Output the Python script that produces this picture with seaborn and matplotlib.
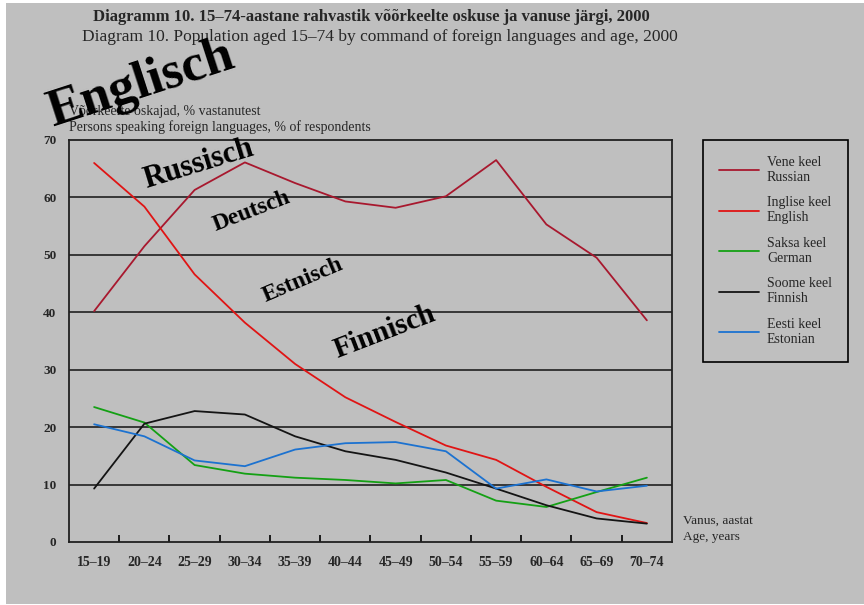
import matplotlib
matplotlib.use("Agg")
import matplotlib.pyplot as plt
import seaborn as sns
import pandas as pd
from matplotlib.patches import Rectangle
from matplotlib.ticker import FixedLocator
from matplotlib.lines import Line2D

ages = ["15–19", "20–24", "25–29", "30–34", "35–39", "40–44",
        "45–49", "50–54", "55–59", "60–64", "65–69", "70–74"]
russian = [40.2, 51.5, 61.3, 66.1, 62.5, 59.3, 58.2, 60.2, 66.5, 55.3, 49.5, 38.6]
english = [66.0, 58.4, 46.6, 38.2, 31.0, 25.2, 20.9, 16.8, 14.3, 9.6, 5.2, 3.3]
german = [23.5, 20.8, 13.4, 11.9, 11.2, 10.8, 10.2, 10.8, 7.2, 6.1, 8.7, 11.2]
finnish = [9.3, 20.6, 22.8, 22.2, 18.4, 15.8, 14.3, 12.1, 9.3, 6.4, 4.1, 3.2]
estonian = [20.5, 18.4, 14.2, 13.2, 16.1, 17.2, 17.4, 15.8, 9.3, 10.9, 8.8, 9.8]

series_labels = ["Vene keel\nRussian", "Inglise keel\nEnglish", "Saksa keel\nGerman",
                 "Soome keel\nFinnish", "Eesti keel\nEstonian"]
series_values = [russian, english, german, finnish, estonian]
colors = ["#a8182e", "#e01414", "#14a014", "#141414", "#1c72d0"]

title1 = "Diagramm 10. 15–74-aastane rahvastik võõrkeelte oskuse ja vanuse järgi, 2000"
title2 = "Diagram 10. Population aged 15–74 by command of foreign languages and age, 2000"
ylab1 = "Võõrkeelte oskajad, % vastanutest"
ylab2 = "Persons speaking foreign languages, % of respondents"
xlab = "Vanus, aastat\nAge, years"
overlay_words = ["Englisch", "Russisch", "Deutsch", "Estnisch", "Finnisch"]

rows = []
for lab, vals in zip(series_labels, series_values):
    for a, v in zip(ages, vals):
        rows.append({"age": a, "value": v, "series": lab})
df = pd.DataFrame(rows)

sns.set_theme(style="white")
plt.rcParams["font.family"] = ["Liberation Serif", "DejaVu Serif"]

BG = "#bfbfbf"
W, H = 864, 605
fig = plt.figure(figsize=(8.64, 6.05), dpi=100, facecolor="white")
fig.patches.append(Rectangle((6 / W, 1 - 604 / H), 1, (604 - 3) / H,
                             transform=fig.transFigure, facecolor=BG,
                             edgecolor="none", zorder=-10))

ax = fig.add_axes([69 / W, 1 - 542 / H, (672 - 69) / W, (542 - 140) / H])
ax.set_facecolor(BG)

sns.lineplot(data=df, x="age", y="value", hue="series", palette=colors,
             hue_order=series_labels, sort=False, linewidth=1.3, ax=ax,
             legend=False)

ax.set_xlim(-0.5, len(ages) - 0.5)
ax.set_ylim(0, 70)
ax.set_yticks(range(0, 71, 10))
ax.set_yticklabels([str(v) for v in range(0, 71, 10)], fontsize=9.5,
                   fontweight="bold")
ax.set_xticks(range(len(ages)))
ax.set_xticklabels(ages, fontsize=10, fontweight="bold")
ax.tick_params(axis="x", which="major", length=0, pad=10)
ax.tick_params(axis="y", which="major", length=0, pad=9)
ax.xaxis.set_minor_locator(FixedLocator([i + 0.5 for i in range(len(ages) - 1)]))
ax.tick_params(axis="x", which="minor", direction="in", length=5, width=1.2,
               color="black", bottom=True)
for v in range(10, 70, 10):
    ax.axhline(v, color="#202020", linewidth=1.2, zorder=0.5)
for s in ax.spines.values():
    s.set_color("#202020")
    s.set_linewidth(1.3)
ax.set_xlabel("")
ax.set_ylabel("")

# legend
handles = [Line2D([], [], color=c, linewidth=1.3) for c in colors]
leg = fig.legend(handles, series_labels, loc="upper left",
                 bbox_to_anchor=(703 / W, 1 - 140 / H), frameon=True,
                 fancybox=False, edgecolor="black", facecolor=BG,
                 fontsize=10, handlelength=2.9, handletextpad=0.55,
                 labelspacing=0.9, borderpad=1.15, borderaxespad=0)
leg.get_frame().set_linewidth(1.2)
leg.get_frame().set_alpha(1)

# titles and labels
fig.text(371 / W, 1 - 17 / H, title1, ha="center", va="center",
         fontsize=12, fontweight="bold")
fig.text(380 / W, 1 - 37 / H, title2, ha="center", va="center", fontsize=12.5)
fig.text(69 / W, 1 - 111 / H, ylab1, ha="left", va="center", fontsize=10)
fig.text(69 / W, 1 - 127 / H, ylab2, ha="left", va="center", fontsize=10)
fig.text(683 / W, 1 - 529 / H, xlab, ha="left", va="center", fontsize=9.5,
         linespacing=1.4)

# overlay words
placements = [(141, 84, 38, 18), (199, 164, 22, 17), (252, 211, 17, 21),
              (303, 280, 17, 23), (385, 332, 21, 21)]
for word, (px, py, fs, rot) in zip(overlay_words, placements):
    fig.text(px / W, 1 - py / H, word, ha="center", va="center",
             fontsize=fs, fontweight="bold", rotation=rot,
             rotation_mode="anchor", color="black", zorder=20)

fig.savefig("out.png", dpi=100, facecolor=fig.get_facecolor())
